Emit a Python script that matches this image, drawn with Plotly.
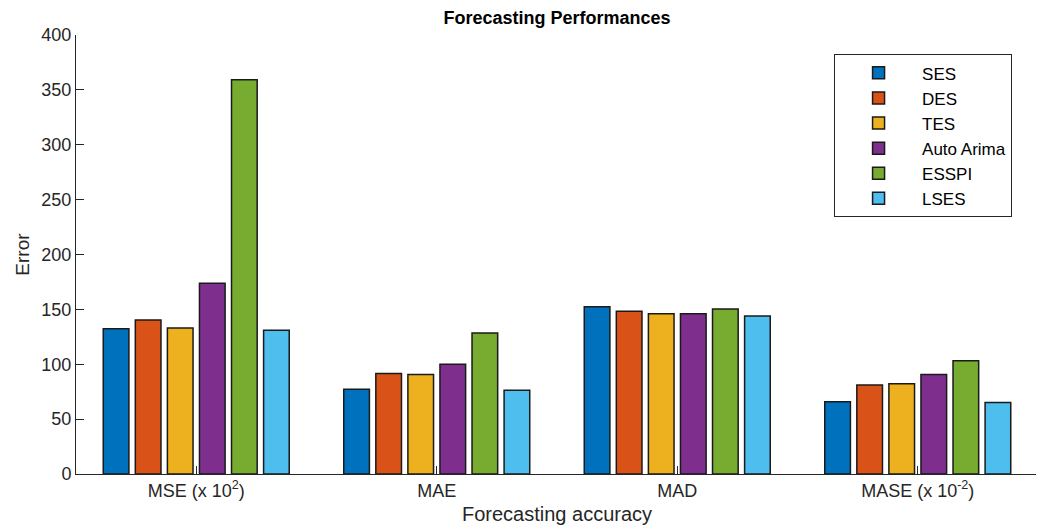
import plotly.graph_objects as go

categories = ["MSE (x 10<sup>2</sup>)", "MAE", "MAD", "MASE (x 10<sup>-2</sup>)"]
series_names = ["SES", "DES", "TES", "Auto Arima", "ESSPI", "LSES"]
ses = [132.4, 77.3, 152.5, 65.9]
des = [140.4, 91.6, 148.2, 81.0]
tes = [133.0, 90.6, 146.0, 82.3]
auto_arima = [173.9, 99.9, 146.0, 90.6]
esspi = [359.2, 128.4, 150.3, 103.3]
lses = [130.9, 76.4, 143.9, 65.2]
series_values = [ses, des, tes, auto_arima, esspi, lses]
colors = ["#0072BD", "#D95319", "#EDB120", "#7E2F8E", "#77AC30", "#4DBEEE"]
y_ticks = [0, 50, 100, 150, 200, 250, 300, 350, 400]

FONT = "Liberation Sans, Arial, Helvetica, sans-serif"
# page body has an 8px margin; figure is shrunk so it fits the 1044x527 window
W, H = 1036, 519

fig = go.Figure()
for name, vals, col in zip(series_names, series_values, colors):
    fig.add_trace(go.Bar(
        x=categories, y=vals, name=name,
        marker=dict(color=col, line=dict(color="#1a1a1a", width=1.5)),
    ))

fig.update_layout(
    width=W, height=H,
    margin=dict(l=68, r=6, t=27, b=53, autoexpand=False),
    paper_bgcolor="white", plot_bgcolor="white",
    barmode="group", bargap=0.2, bargroupgap=0.2,
    font=dict(family=FONT, size=18, color="#262626"),
    title=dict(text="<b>Forecasting Performances</b>", x=0.5, xref="paper", xanchor="center",
               yref="container", y=1 - 10 / H, yanchor="middle",
               font=dict(size=18, color="black")),
    xaxis=dict(
        showline=True, linecolor="#262626", linewidth=1,
        ticks="inside", ticklen=8, tickcolor="#262626",
        tickfont=dict(size=18, color="#262626"),
        title=dict(text="Forecasting accuracy", font=dict(size=20, color="#262626"), standoff=7),
        showgrid=False, zeroline=False,
    ),
    yaxis=dict(
        range=[0, 400], tickvals=y_ticks,
        showline=True, linecolor="#262626", linewidth=1,
        ticks="inside", ticklen=8, tickcolor="#262626",
        tickfont=dict(size=18, color="#262626"),
        title=dict(text="Error", font=dict(size=19, color="#262626"), standoff=6),
        showgrid=False, zeroline=False,
    ),
    legend=dict(
        x=0.788, y=0.956, xanchor="left", yanchor="top",
        bgcolor="white", bordercolor="#262626", borderwidth=1,
        font=dict(size=17, color="black"),
        itemwidth=77, tracegroupgap=1,
    ),
)

fig.write_html("out.html")
